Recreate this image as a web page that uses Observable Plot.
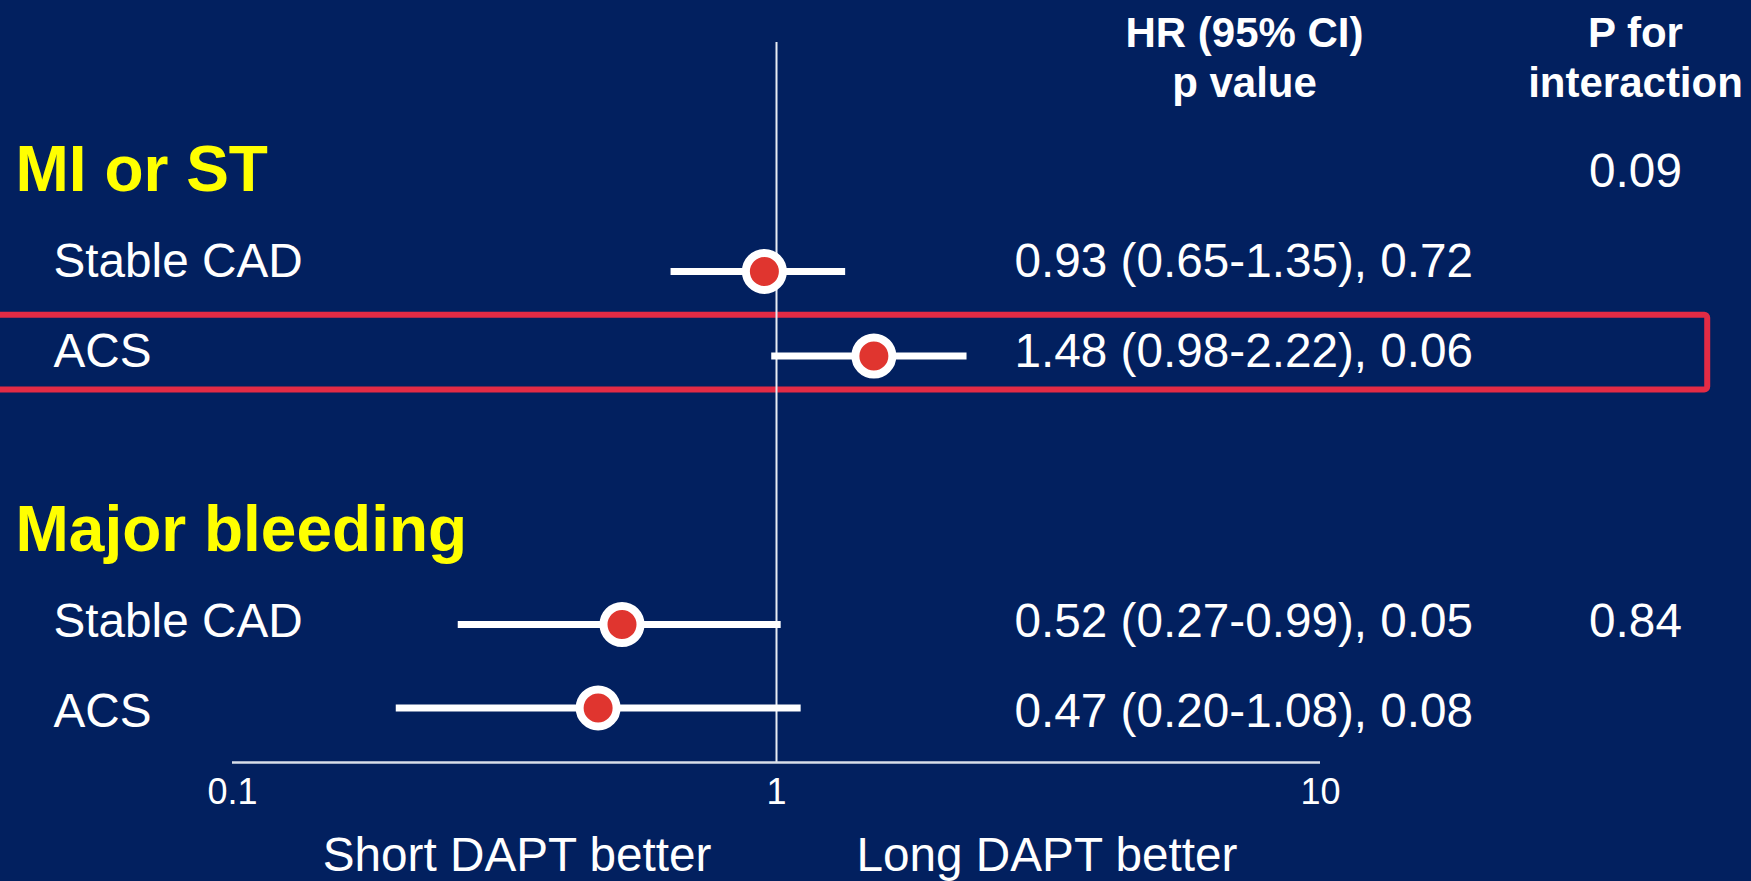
<!DOCTYPE html>
<html>
<head>
<meta charset="utf-8">
<script src="https://cdn.jsdelivr.net/npm/d3@7"></script>
<script src="https://cdn.jsdelivr.net/npm/@observablehq/plot@0.6"></script>
<style>
  html, body { margin: 0; padding: 0; background: #02205f; }
</style>
</head>
<body>
<div id="chart"></div>
<script>
// ---- Data ----
const groupTitles = ["MI or ST", "Major bleeding"];
const groupTitleRow = [0.05, 4.05];
const pInteraction = ["0.09", "0.84"];
const pInteractionRow = [0, 5];

const subgroups = ["Stable CAD", "ACS", "Stable CAD", "ACS"];
const labelRow = [1, 2, 5, 6];
const markRow = [0.944, 1.883, 4.867, 5.794];
const hr = [0.95, 1.51, 0.52, 0.47];
const ciLow = [0.64, 0.98, 0.26, 0.20];
const ciHigh = [1.34, 2.24, 1.02, 1.11];
const hrText = [
  "0.93 (0.65-1.35), 0.72",
  "1.48 (0.98-2.22), 0.06",
  "0.52 (0.27-0.99), 0.05",
  "0.47 (0.20-1.08), 0.08"
];

const headers = ["HR (95% CI)\np value", "P for\ninteraction"];
const tickValues = [0.1, 1, 10];
const tickLabels = ["0.1", "1", "10"];
const favours = ["Short DAPT better", "Long DAPT better"];
const highlight = [{x1: 0.03, x2: 51.5, y1: 1.43, y2: 2.26}];

const rows = subgroups.map((s, i) => ({
  sub: s, labelRow: labelRow[i], row: markRow[i],
  hr: hr[i], lo: ciLow[i], hi: ciHigh[i], text: hrText[i]
}));
const groupsData = groupTitles.map((g, i) => ({g, row: groupTitleRow[i]}));
const pData = pInteraction.map((p, i) => ({p, row: pInteractionRow[i]}));

const RED_BOX = "#e32b45";
const DOT_RED = "#e0352f";
const YELLOW = "#ffff00";
const ROW_FONT = 47.7;

const chart = Plot.plot({
  width: 1751,
  height: 881,
  marginLeft: 232,
  marginRight: 431,
  marginTop: 42,
  marginBottom: 119,
  style: {
    background: "#02205f",
    color: "white",
    fontFamily: "'Liberation Sans', Arial, sans-serif",
    fontSize: "36px",
    overflow: "visible"
  },
  x: {type: "log", domain: [0.1, 10], axis: null, label: null},
  y: {domain: [-1.6, 6.4], reverse: true, axis: null, label: null},
  marks: [
    Plot.rect(highlight, {x1: "x1", x2: "x2", y1: "y1", y2: "y2", fill: "none", stroke: RED_BOX, strokeWidth: 6, rx: 3}),
    Plot.ruleX([1], {stroke: "#e8ecf4", strokeWidth: 2}),
    Plot.ruleY([6.4], {stroke: "#d8dee9", strokeWidth: 2.5}),
    Plot.axisX({
      ticks: tickValues,
      tickFormat: d => tickLabels[tickValues.indexOf(d)],
      tickSize: 0,
      tickPadding: 16,
      fontSize: 36,
      label: null
    }),
    Plot.ruleY(rows, {y: "row", x1: "lo", x2: "hi", stroke: "white", strokeWidth: 7}),
    Plot.dot(rows, {x: "hr", y: "row", r: 18.5, fill: DOT_RED, stroke: "white", strokeWidth: 8}),
    Plot.text(rows, {y: "labelRow", text: "sub", frameAnchor: "left", dx: -179, textAnchor: "start", lineAnchor: "bottom", fontSize: ROW_FONT}),
    Plot.text(rows, {y: "labelRow", text: "text", frameAnchor: "right", dx: -306, textAnchor: "start", lineAnchor: "bottom", fontSize: ROW_FONT}),
    Plot.text(groupsData, {y: "row", text: "g", frameAnchor: "left", dx: -217, textAnchor: "start", lineAnchor: "bottom", fontSize: 64, fontWeight: "bold", fill: YELLOW}),
    Plot.text(pData, {y: "row", text: "p", frameAnchor: "right", dx: 315, textAnchor: "middle", lineAnchor: "bottom", fontSize: ROW_FONT}),
    Plot.text([headers[0]], {y: -1, text: d => d, frameAnchor: "right", dx: -76, textAnchor: "middle", lineAnchor: "bottom", lineHeight: 1.19, fontSize: 42, fontWeight: "bold"}),
    Plot.text([headers[1]], {y: -1, text: d => d, frameAnchor: "right", dx: 315, textAnchor: "middle", lineAnchor: "bottom", lineHeight: 1.19, fontSize: 42, fontWeight: "bold"}),
    Plot.text([favours[0]], {x: 1, y: 7.6, text: d => d, textAnchor: "end", dx: -65, lineAnchor: "bottom", fontSize: ROW_FONT}),
    Plot.text([favours[1]], {x: 1, y: 7.6, text: d => d, textAnchor: "start", dx: 80, lineAnchor: "bottom", fontSize: ROW_FONT})
  ]
});
document.getElementById("chart").appendChild(chart);
</script>
</body>
</html>
